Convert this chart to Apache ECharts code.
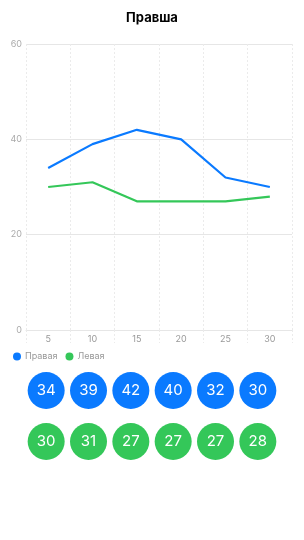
<!DOCTYPE html>
<html>
<head>
<meta charset="utf-8">
<script src="https://cdn.jsdelivr.net/npm/echarts@6/dist/echarts.min.js"></script>
<style>
  html, body { margin: 0; padding: 0; background: #fff; }
  #chart { width: 304px; height: 540px; }
</style>
</head>
<body>
<div id="chart"></div>
<script>
// данные графика
const days = ['5', '10', '15', '20', '25', '30']
const rightHand = [34, 39, 42, 40, 32, 30]
const leftHand = [30, 31, 27, 27, 27, 28]
const rowNames = ['Правая', 'Левая']

const blue = '#0a7aff'
const green = '#34c759'
const font = 'Inter, "Noto Sans", sans-serif'

const myChart = echarts.init(document.getElementById('chart'))
const dashed = { color: '#ebebeb', type: [2, 2], width: 1 }

const option = {
  textStyle: { fontFamily: font },
  title: {
    text: 'Правша',
    left: 'center',
    top: 7,
    textStyle: { fontSize: 13, fontWeight: 'bold', color: '#000', fontFamily: font }
  },
  legend: {
    data: rowNames,
    left: 8,
    top: 347,
    icon: 'circle',
    itemWidth: 8,
    itemHeight: 8,
    itemGap: 8,
    textStyle: { fontSize: 9, color: '#999', padding: [0, 0, 0, -1] }
  },
  grid: [
    { left: 26, right: 12, top: 44, bottom: 210 },
    { left: 25, right: 25, top: 365, height: 102 }
  ],
  xAxis: [
    {
      gridIndex: 0,
      type: 'category',
      data: days,
      boundaryGap: true,
      axisLine: { lineStyle: { color: '#e6e6e6' } },
      axisTick: { show: true, interval: 0, length: 13, lineStyle: dashed },
      axisLabel: { color: '#999', fontSize: 9, margin: 5 },
      splitLine: { show: true, interval: 0, lineStyle: dashed }
    },
    {
      gridIndex: 1,
      type: 'category',
      data: days,
      show: false
    }
  ],
  yAxis: [
    {
      gridIndex: 0,
      type: 'value',
      min: 0,
      max: 60,
      interval: 20,
      axisLine: { show: false },
      axisTick: { show: false },
      axisLabel: { color: '#aaa', fontSize: 9, margin: 4 },
      splitLine: { lineStyle: { color: '#e6e6e6' } }
    },
    {
      gridIndex: 1,
      type: 'category',
      data: rowNames,
      inverse: true,
      show: false
    }
  ],
  series: [
    {
      name: 'Правая',
      type: 'line',
      data: rightHand,
      symbol: 'none',
      lineStyle: { color: blue, width: 2.2 },
      itemStyle: { color: blue }
    },
    {
      name: 'Левая',
      type: 'line',
      data: leftHand,
      symbol: 'none',
      lineStyle: { color: green, width: 2.2 },
      itemStyle: { color: green }
    },
    {
      name: 'rightDots',
      type: 'scatter',
      xAxisIndex: 1,
      yAxisIndex: 1,
      symbolSize: 37,
      itemStyle: { color: blue, opacity: 1 },
      label: {
        show: true,
        position: 'inside',
        color: '#fff',
        fontSize: 15,
        formatter: p => p.value[2]
      },
      data: rightHand.map((v, i) => [i, rowNames[0], v])
    },
    {
      name: 'leftDots',
      type: 'scatter',
      xAxisIndex: 1,
      yAxisIndex: 1,
      symbolSize: 37,
      itemStyle: { color: green, opacity: 1 },
      label: {
        show: true,
        position: 'inside',
        color: '#fff',
        fontSize: 15,
        formatter: p => p.value[2]
      },
      data: leftHand.map((v, i) => [i, rowNames[1], v])
    }
  ]
}
option && myChart.setOption(option)
window.addEventListener('resize', () => { myChart.resize() })
</script>
</body>
</html>
